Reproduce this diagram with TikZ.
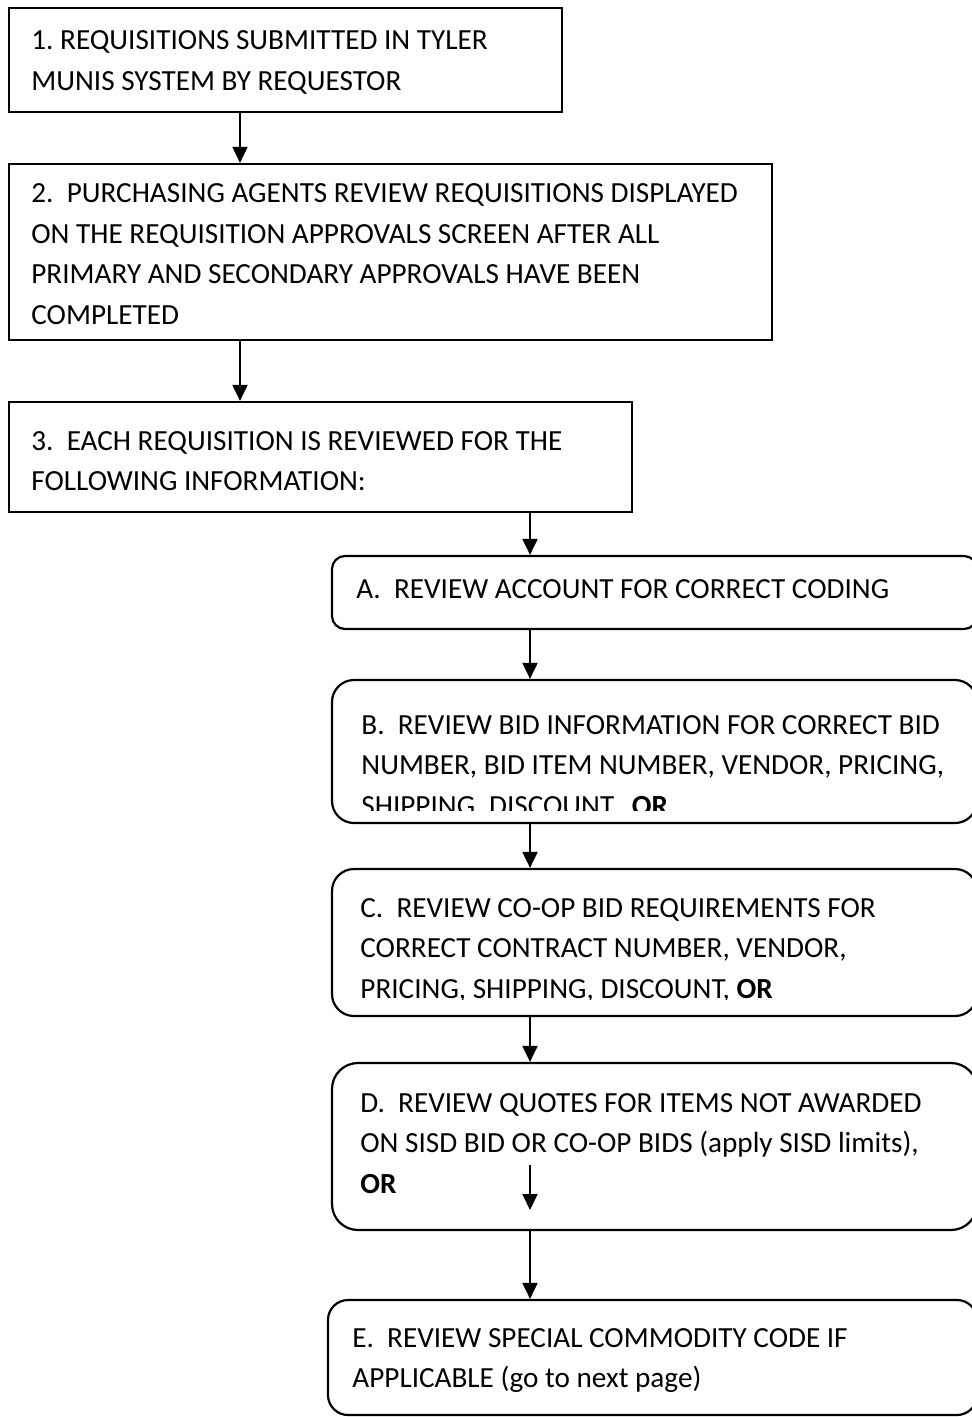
\documentclass[tikz,border=0pt]{standalone}
\usepackage{fontspec}
\setmainfont{Carlito}
\usetikzlibrary{arrows.meta,fit}
\frenchspacing
\newcommand\boxlines[1]{\vtop{\baselineskip=20.25pt\lineskiplimit=-20pt #1}}
\newcommand\bl[1]{\hbox{#1}}
\begin{document}
\begin{tikzpicture}[x=0.5pt,y=-0.5pt,
  sqbox/.style={draw, line width=1.1pt, inner sep=0pt},
  rbox/.style={draw, line width=1.1pt, inner sep=0pt, rounded corners=#1},
  arr/.style={line width=1pt, -{Triangle[width=7.5pt,length=8pt]}},
  txt/.style={anchor=base west, inner sep=0pt, font=\fontsize{14.6pt}{20.25pt}\selectfont}]
\useasboundingbox[fill=white] (0,0) rectangle (971,1417);

% columns of the connectors
\coordinate (xa) at (240,0);
\coordinate (xb) at (530,0);

% boxes
\node[sqbox, fit={(9,8) (562,112)}] (b1) {};
\node[sqbox, fit={(9,164) (772,340)}] (b2) {};
\node[sqbox, fit={(9,402) (632,512)}] (b3) {};
\node[rbox=6.5pt, fit={(332,556) (977,629)}] (bA) {};
\node[rbox=11pt, fit={(332,680) (977,823)}] (bB) {};
\node[rbox=11pt, fit={(332,869) (977,1016)}] (bC) {};
\node[rbox=13pt, fit={(332,1063) (977,1230)}] (bD) {};
\node[rbox=10pt, fit={(328,1300) (977,1415)}] (bE) {};

% texts
\node[txt] (t1) at (31,50) {\boxlines{\bl{1. REQUISITIONS SUBMITTED IN TYLER}\bl{MUNIS SYSTEM BY REQUESTOR}}};
\node[txt] (t2) at (31,203) {\boxlines{\bl{2.\ \ PURCHASING AGENTS REVIEW REQUISITIONS DISPLAYED}\bl{ON THE REQUISITION APPROVALS SCREEN AFTER ALL}\bl{PRIMARY AND SECONDARY APPROVALS HAVE BEEN}\bl{COMPLETED}}};
\node[txt] (t3) at (31,450) {\boxlines{\bl{3.\ \ EACH REQUISITION IS REVIEWED FOR THE}\bl{FOLLOWING INFORMATION:}}};
\node[txt] (tA) at (356,598) {A.\ \ REVIEW ACCOUNT FOR CORRECT CODING};
\begin{scope}
\clip (320,660) rectangle (971,810);
\node[txt] (tB) at (361,734) {\boxlines{\bl{B.\ \ REVIEW BID INFORMATION FOR CORRECT BID}\bl{NUMBER, BID ITEM NUMBER, VENDOR, PRICING,}\bl{SHIPPING, DISCOUNT.\ \ \textbf{OR}}}};
\end{scope}
\begin{scope}
\clip (320,860) rectangle (971,999);
\node[txt] (tC) at (360,917) {\boxlines{\bl{C.\ \ REVIEW CO-OP BID REQUIREMENTS FOR}\bl{CORRECT CONTRACT NUMBER, VENDOR,}\bl{PRICING, SHIPPING, DISCOUNT, \textbf{OR}}}};
\end{scope}
\node[txt] (tD) at (360,1112) {\boxlines{\bl{D.\ \ REVIEW QUOTES FOR ITEMS NOT AWARDED}\bl{ON SISD BID OR CO-OP BIDS (apply SISD limits),}\bl{\textbf{OR}}}};
\node[txt] (tE) at (352,1347) {\boxlines{\bl{E.\ \ REVIEW SPECIAL COMMODITY CODE IF}\bl{APPLICABLE (go to next page)}}};

% connectors
\draw[arr] (xa |- b1.south) -- (xa |- b2.north);
\draw[arr] (xa |- b2.south) -- (xa |- b3.north);
\draw[arr] (xb |- b3.south) -- (xb |- bA.north);
\draw[arr] (xb |- bA.south) -- (xb |- bB.north);
\draw[arr] (xb |- bB.south) -- (xb |- bC.north);
\draw[arr] (xb |- bC.south) -- (xb |- bD.north);
\coordinate (d1) at (530,1165);
\coordinate (d2) at (530,1210);
\draw[arr] (d1) -- (d2);
\draw[arr] (xb |- bD.south) -- (xb |- bE.north);
\end{tikzpicture}
\end{document}
